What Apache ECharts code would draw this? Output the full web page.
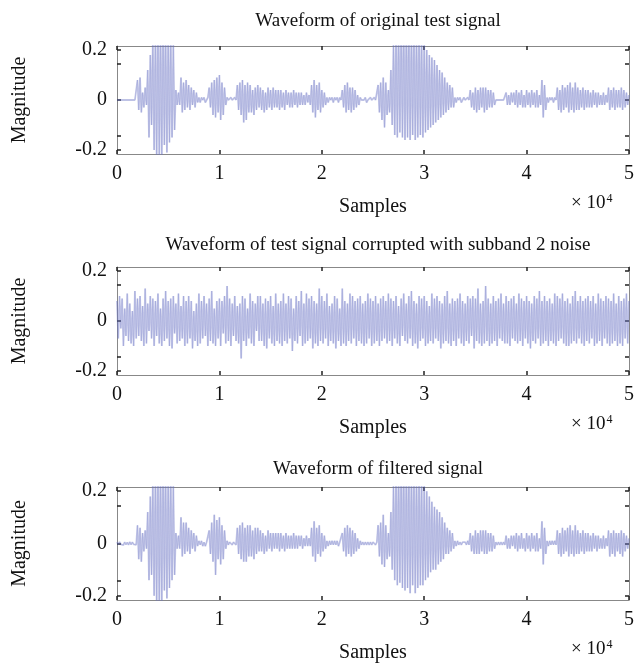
<!DOCTYPE html>
<html>
<head>
<meta charset="utf-8">
<script src="https://cdn.jsdelivr.net/npm/echarts@6/dist/echarts.min.js"></script>
<style>
  html, body { margin: 0; padding: 0; background: #fff; }
  #chart { width: 638px; height: 671px; }
</style>
</head>
<body>
<div id="chart"></div>
<script>
// one value every 125 samples (8 per 0.1e4)
const sampleStep = 125;

const titles = [
  "Waveform of original test signal",
  "Waveform of test signal corrupted with subband 2 noise",
  "Waveform of filtered signal"
];

const originalSignal = [
  0,0,0,0,0,0,0,0,
  0,0,0,0,0,0,0,0,
  .08,-.04,.09,-.05,.03,-.03,.05,-.02,
  .12,-.15,.18,-.1,.24,-.2,.27,-.24,
  .3,-.22,.29,-.24,.31,-.18,.28,-.21,
  .26,-.17,.25,-.15,.22,-.12,.04,-.02,
  .03,-.02,.09,-.05,.07,-.04,.08,-.03,
  .06,-.04,.05,-.02,.04,-.03,.03,-.01,
  .01,-.01,.01,0,.01,-.01,0,.01,
  .05,-.03,.07,-.06,.08,-.07,.09,-.05,
  .1,-.08,.07,-.06,.05,-.02,.01,0,
  0,.01,0,0,.01,0,.06,-.04,
  .07,-.06,.08,-.09,.06,-.08,.07,-.05,
  .06,-.05,.04,-.06,.05,-.04,.06,-.03,
  .05,-.04,.04,-.05,.03,-.04,.05,-.03,
  .04,-.04,.05,-.03,.04,-.03,.04,-.04,
  .04,-.03,.03,-.04,.04,-.02,.03,-.03,
  .03,-.03,.04,-.02,.03,-.03,.03,-.02,
  .03,-.02,.02,-.02,.03,-.01,.02,-.02,
  .06,-.05,.08,-.07,.06,-.04,.07,-.05,
  .04,-.03,.03,-.02,.01,-.01,.01,0,
  .01,-.01,.01,0,.01,-.01,.01,0,
  .04,-.03,.06,-.05,.07,-.04,.05,-.05,
  .05,-.04,.04,-.03,.02,-.02,.01,0,
  0,0,.01,-.01,0,0,.01,0,
  0,.01,0,0,.06,-.05,.07,-.08,
  .09,-.11,.07,-.06,.04,-.05,.12,-.1,
  .22,-.14,.26,-.15,.28,-.13,.29,-.15,
  .3,-.16,.28,-.15,.3,-.16,.27,-.14,
  .28,-.16,.26,-.15,.27,-.14,.25,-.15,
  .22,-.13,.2,-.12,.18,-.11,.17,-.1,
  .16,-.09,.14,-.08,.12,-.07,.11,-.06,
  .09,-.05,.07,-.04,.06,-.03,.05,-.03,
  .01,-.01,.01,0,.01,-.01,0,.01,
  0,0,.01,0,.04,-.03,.03,-.04,
  .05,-.05,.04,-.04,.05,-.03,.05,-.05,
  .05,-.04,.04,-.03,.04,-.03,.03,-.02,
  0,0,0,0,0,0,0,0,
  .03,-.02,.02,-.02,.03,-.01,.03,-.02,
  .04,-.03,.03,-.02,.04,-.03,.02,-.03,
  .04,-.02,.03,-.03,.04,-.02,.03,-.03,
  .04,-.03,.02,-.02,.08,-.07,.06,-.04,
  .01,-.01,.01,0,.01,-.01,.01,0,
  .05,-.04,.04,-.05,.06,-.04,.05,-.03,
  .06,-.05,.07,-.04,.05,-.05,.07,-.04,
  .05,-.04,.04,-.03,.05,-.04,.04,-.03,
  .04,-.03,.03,-.03,.04,-.02,.03,-.03,
  .03,-.02,.02,-.02,.03,-.02,.02,-.01,
  .05,-.04,.04,-.03,.05,-.04,.04,-.03,
  .04,-.03,.05,-.04,.04,-.03,.03,-.02,
  .02
];

const noisySignal = [
  .08,-.07,.1,-.03,.09,-.1,.05,-.06,
  .11,-.08,.07,-.09,.04,-.1,.12,-.07,
  .09,-.06,.1,-.08,.06,-.1,.13,-.09,
  .07,-.04,.1,-.07,.09,-.1,.08,-.06,
  .11,-.09,.05,-.1,.09,-.08,.12,-.07,
  .08,-.1,.09,-.11,.1,-.05,.07,-.09,
  .11,-.08,.06,-.07,.1,-.1,.08,-.09,
  .1,-.07,.08,-.11,.04,-.08,.07,-.1,
  .11,-.09,.08,-.07,.1,-.06,.07,-.1,
  .09,-.08,.12,-.09,.05,-.1,.08,-.07,
  .09,-.1,.08,-.05,.1,-.09,.14,-.08,
  .09,-.1,.07,-.06,.1,-.08,.06,-.09,
  .07,-.15,.1,-.08,.09,-.1,.05,-.07,
  .11,-.09,.08,-.1,.07,-.04,.1,-.08,
  .1,-.08,.07,-.1,.09,-.11,.08,-.07,
  .1,-.09,.06,-.1,.11,-.08,.07,-.09,
  .08,-.1,.11,-.08,.07,-.09,.1,-.07,
  .09,-.12,.05,-.08,.1,-.09,.08,-.06,
  .12,-.1,.07,-.09,.11,-.08,.09,-.07,
  .1,-.11,.08,-.09,.07,-.1,.13,-.08,
  .1,-.09,.08,-.07,.11,-.1,.06,-.08,
  .07,-.09,.1,-.11,.09,-.08,.05,-.1,
  .13,-.09,.08,-.1,.07,-.08,.11,-.09,
  .1,-.07,.08,-.1,.09,-.08,.1,-.09,
  .07,-.1,.08,-.09,.11,-.07,.09,-.1,
  .08,-.09,.1,-.08,.07,-.1,.09,-.08,
  .1,-.07,.08,-.09,.11,-.08,.09,-.1,
  .08,-.07,.1,-.09,.06,-.1,.09,-.06,
  .11,-.08,.07,-.09,.1,-.07,.12,-.1,
  .08,-.09,.07,-.11,.1,-.08,.09,-.07,
  .1,-.1,.08,-.09,.06,-.08,.11,-.09,
  .09,-.07,.1,-.08,.08,-.11,.07,-.09,
  .1,-.08,.12,-.09,.07,-.1,.09,-.08,
  .08,-.1,.09,-.07,.11,-.09,.08,-.1,
  .07,-.08,.1,-.09,.09,-.06,.1,-.11,
  .09,-.08,.13,-.09,.07,-.1,.08,-.09,
  .14,-.08,.09,-.1,.07,-.09,.1,-.08,
  .08,-.1,.09,-.07,.11,-.08,.07,-.09,
  .1,-.09,.08,-.1,.09,-.07,.1,-.08,
  .07,-.09,.11,-.08,.09,-.1,.08,-.07,
  .1,-.09,.08,-.11,.07,-.08,.1,-.09,
  .09,-.07,.12,-.1,.08,-.09,.1,-.08,
  .08,-.1,.09,-.08,.07,-.09,.11,-.1,
  .1,-.08,.09,-.07,.11,-.09,.08,-.1,
  .09,-.1,.07,-.09,.1,-.08,.12,-.09,
  .08,-.07,.1,-.09,.08,-.1,.09,-.08,
  .1,-.09,.08,-.07,.1,-.1,.07,-.09,
  .11,-.08,.09,-.1,.08,-.07,.1,-.09,
  .09,-.1,.08,-.09,.11,-.08,.07,-.1,
  .1,-.09,.08,-.1,.09,-.07,.11,-.09,
  .08
];

const filteredSignal = [
  .005,-.004,.006,-.003,.004,-.006,.005,-.004,
  .004,-.005,.006,-.004,.005,-.003,.004,-.005,
  .07,-.06,.06,-.07,.04,-.03,.05,-.02,
  .12,-.14,.18,-.12,.24,-.2,.27,-.24,
  .3,-.23,.29,-.24,.31,-.18,.28,-.21,
  .26,-.17,.25,-.14,.22,-.12,.04,-.02,
  .03,-.02,.1,-.05,.08,-.04,.08,-.03,
  .06,-.04,.05,-.02,.04,-.03,.03,-.01,
  .01,-.005,.01,-.01,.005,-.01,.005,.01,
  .05,-.04,.08,-.07,.11,-.12,.09,-.06,
  .1,-.08,.07,-.06,.05,-.02,.01,-.005,
  .005,.01,-.005,.005,.01,-.005,.06,-.04,
  .07,-.06,.08,-.07,.06,-.07,.07,-.05,
  .07,-.05,.05,-.06,.06,-.04,.06,-.03,
  .05,-.03,.04,-.04,.03,-.03,.05,-.02,
  .04,-.03,.04,-.02,.04,-.02,.04,-.03,
  .04,-.02,.03,-.03,.04,-.02,.03,-.02,
  .03,-.02,.04,-.02,.03,-.02,.03,-.01,
  .03,-.02,.02,-.01,.03,-.01,.02,-.01,
  .06,-.05,.085,-.07,.06,-.04,.07,-.05,
  .04,-.03,.03,-.02,.01,-.01,.01,-.005,
  .01,-.005,.01,-.005,.01,-.01,.005,.005,
  .04,-.03,.06,-.05,.07,-.04,.06,-.05,
  .05,-.04,.04,-.03,.02,-.02,.01,-.005,
  .005,-.005,.005,-.005,.005,-.005,.005,-.005,
  .005,.01,-.005,.005,.07,-.05,.08,-.08,
  .11,-.09,.07,-.06,.04,-.05,.12,-.1,
  .22,-.14,.26,-.16,.28,-.15,.29,-.17,
  .3,-.18,.28,-.17,.3,-.19,.27,-.16,
  .28,-.19,.26,-.17,.27,-.16,.25,-.16,
  .22,-.14,.2,-.13,.18,-.11,.16,-.1,
  .14,-.1,.13,-.08,.12,-.07,.1,-.06,
  .08,-.04,.06,-.04,.05,-.03,.04,-.02,
  .01,-.01,.01,-.005,.005,-.005,.005,.005,
  .005,-.005,.01,-.005,.04,-.03,.03,-.04,
  .05,-.04,.04,-.04,.05,-.03,.05,-.04,
  .05,-.04,.04,-.03,.04,-.03,.03,-.02,
  .005,-.005,.005,-.005,.005,-.005,.005,-.005,
  .03,-.02,.02,-.02,.03,-.01,.03,-.02,
  .04,-.03,.03,-.02,.04,-.02,.02,-.03,
  .04,-.02,.03,-.03,.04,-.02,.03,-.03,
  .04,-.03,.02,-.02,.085,-.08,.06,-.04,
  .01,-.01,.01,-.005,.01,-.005,.01,-.005,
  .05,-.04,.04,-.05,.06,-.04,.05,-.03,
  .06,-.05,.07,-.04,.05,-.05,.07,-.04,
  .05,-.04,.04,-.03,.05,-.04,.04,-.03,
  .04,-.03,.03,-.03,.04,-.02,.03,-.03,
  .03,-.02,.02,-.02,.03,-.02,.02,-.01,
  .05,-.05,.04,-.04,.05,-.05,.04,-.03,
  .04,-.04,.05,-.05,.04,-.03,.03,-.02,
  .02
];

const xTickLabels = ["0", "1", "2", "3", "4", "5"];
const yLabelValues = [-0.2, 0, 0.2];
const yTickValues = [-0.2, -0.144, 0, 0.144, 0.2];

const signals = [originalSignal, noisySignal, filteredSignal];
const gridTops = [46, 267, 487];
const gridHeights = [108, 108, 113];
const titleTops = [7, 231, 455];
const font = "Liberation Serif";

const grids = [], xAxes = [], yAxes = [], series = [], titleList = [];

signals.forEach((sig, k) => {
  const top = gridTops[k], h = gridHeights[k];
  grids.push({ left: 117, right: 9, top: top, height: h });
  titleList.push({
    text: titles[k], left: 373, top: titleTops[k], textAlign: 'center',
    textStyle: { fontFamily: font, fontSize: 19, fontWeight: 'normal', color: '#111' }
  });
  titleList.push({
    text: '{a|× 10}{b|4}', left: 566, top: top + h + 34,
    textStyle: {
      fontWeight: 'normal',
      rich: {
        a: { fontFamily: font, fontSize: 19, fontWeight: 'normal', color: '#111' },
        b: { fontFamily: font, fontSize: 12, fontWeight: 'normal', color: '#111', verticalAlign: 'top', padding: [0, 0, 9, 1] }
      }
    }
  });
  const tickStyle = { show: true, inside: true, length: 4, lineStyle: { color: '#222', width: 1.5 } };
  const lineStyle = { show: true, onZero: false, lineStyle: { color: '#888', width: 1 } };
  xAxes.push({
    gridIndex: k, type: 'value', min: 0, max: 50000, interval: 10000,
    position: 'bottom',
    name: 'Samples', nameLocation: 'middle', nameGap: 43,
    nameTextStyle: { fontFamily: font, fontSize: 20, color: '#111' },
    axisLine: lineStyle, axisTick: tickStyle, splitLine: { show: false },
    axisLabel: {
      fontFamily: font, fontSize: 20, color: '#111', margin: 10,
      formatter: v => xTickLabels[Math.round(v / 10000)]
    }
  });
  xAxes.push({
    gridIndex: k, type: 'value', min: 0, max: 50000, interval: 10000,
    position: 'top', axisLine: lineStyle, axisTick: tickStyle,
    axisLabel: { show: false }, splitLine: { show: false }
  });
  yAxes.push({
    gridIndex: k, type: 'value', min: -0.216, max: 0.216, position: 'left',
    name: 'Magnitude', nameLocation: 'middle', nameGap: 87,
    nameTextStyle: { fontFamily: font, fontSize: 20, color: '#111' },
    axisLine: lineStyle, splitLine: { show: false },
    axisTick: Object.assign({ customValues: yTickValues }, tickStyle),
    axisLabel: {
      customValues: yLabelValues, fontFamily: font, fontSize: 20, color: '#111', margin: 10,
      formatter: v => (v === 0 ? '0' : String(v))
    }
  });
  yAxes.push({
    gridIndex: k, type: 'value', min: -0.216, max: 0.216, position: 'right',
    axisLine: lineStyle, splitLine: { show: false },
    axisTick: Object.assign({ customValues: yTickValues }, tickStyle),
    axisLabel: { show: false }
  });
  series.push({
    type: 'line', xAxisIndex: 2 * k, yAxisIndex: 2 * k,
    data: sig.map((v, i) => [i * sampleStep, v]),
    showSymbol: false, clip: true, animation: false,
    lineStyle: { color: 'rgba(112,120,200,0.38)', width: 1.8, join: 'bevel' }
  });
  // thin darker stroke over the same samples, like the inner trace
  series.push({
    type: 'line', xAxisIndex: 2 * k, yAxisIndex: 2 * k,
    data: sig.map((v, i) => [i * sampleStep, v]),
    showSymbol: false, clip: true, animation: false,
    lineStyle: { color: 'rgba(90,98,190,0.3)', width: 0.6 }
  });
});

const chart = echarts.init(document.getElementById('chart'));
chart.setOption({
  animation: false,
  backgroundColor: '#fff',
  title: titleList,
  grid: grids,
  xAxis: xAxes,
  yAxis: yAxes,
  series: series
});
</script>
</body>
</html>
